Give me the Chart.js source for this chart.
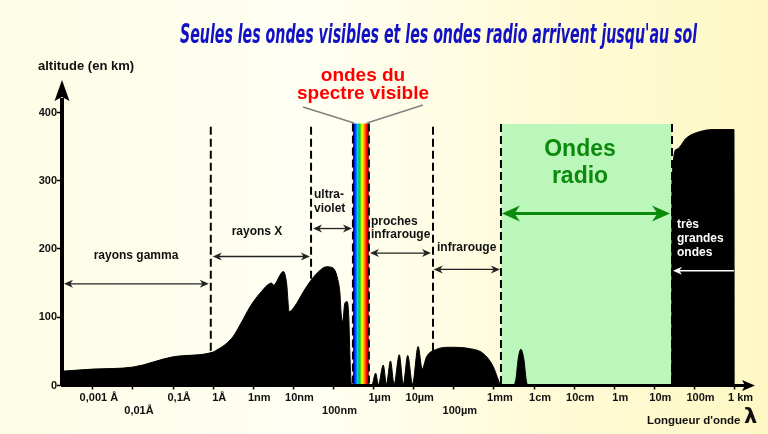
<!DOCTYPE html>
<html lang="fr">
<head>
<meta charset="utf-8">
<title>Absorption atmosphérique</title>
<script src="https://cdn.jsdelivr.net/npm/chart.js@4.4.1/dist/chart.umd.min.js"></script>
<style>
  html, body { margin: 0; padding: 0; background: #fffdf0; }
  #wrap { width: 768px; height: 434px; }
</style>
</head>
<body>
<div id="wrap"><canvas id="spectre" width="768" height="434"></canvas></div>
<script>
// x = log10(longueur d'onde en m), y = altitude en km
const tickLogs = [-13, -12, -11, -10, -9, -8, -7, -6, -5, -4, -3, -2, -1, 0, 1, 2, 3];
const tickLabels = ['0,001 Å', '0,01Å', '0,1Å', '1Å', '1nm', '10nm', '100nm', '1µm', '10µm',
                    '100µm', '1mm', '1cm', '10cm', '1m', '10m', '100m', '1 km'];
const lowRowLabels = ['0,01Å', '100nm', '100µm'];   // labels on the 2nd row
const altTicks = [0, 100, 200, 300, 400];

// altitude reached by the radiation (black area)
const absorbLog = [-13.77, -13.0, -12.0, -11.0, -10.0, -9.91, -9.70, -9.50, -9.30, -9.085, -8.835, -8.54, -8.50,
                   -8.25, -8.17, -8.105, -8.005, -7.67, -7.42, -7.17, -7.01, -6.91, -6.84, -6.81, -6.77, -6.72,
                   -6.66, -6.62, -6.59, -6.55,
                   -6.05, -5.95, -5.88, -5.76, -5.68, -5.58, -5.49, -5.36, -5.26, -5.15, -5.03, -4.89, -4.79,
                   -4.68, -4.43, -4.10, -3.60, -3.27, -3.02, -2.89, -2.83,
                   -2.53, -2.45, -2.40, -2.33, -2.25, -2.20, -2.15,
                   1.435, 1.44, 1.555, 1.805, 2.14, 2.46, 2.985, 2.99];
const absorbAlt = [21, 24, 27, 42, 49, 52, 60, 72, 92, 115, 135, 150, 147,
                   167, 150, 108, 113, 145, 164, 174, 172, 159, 135, 106, 93, 120,
                   123, 101, 42, 0,
                   0, 18, 1, 30, 2, 36, 2, 45, 2, 44, 2, 57, 24,
                   42, 53, 56, 54, 47, 28, 8, 0,
                   0, 10, 37, 53, 37, 10, 0,
                   0, 298, 346, 363, 372, 375, 375, 0];

const visibleLog = [-6.516, -6.117];
const visibleAlt = [384, 384];
const radioLog = [-2.82, 1.44];
const radioAlt = [383, 383];
const boundaryLog = [-10.06, -7.56, -6.516, -6.117, -4.52, -2.825, 1.44];
const boundaryTop = [379, 379, 384, 384, 379, 383, 383];

// domain arrows
const bandFrom = [-13.72, -10.01, -7.51, -6.09, -4.50, -2.80];
const bandTo = [-10.11, -7.59, -6.54, -4.57, -2.85, 1.39];
const bandAlt = [149, 189, 230, 194, 170, 252];
const longFrom = 2.985, longTo = 1.465, longAlt = 168;

const xMin = -13.77, xMax = 3.26, yMax = 418.3;
const FONT = '"Liberation Sans", Arial, sans-serif';

const pts = (xs, ys) => xs.map((x, i) => ({ x: x, y: ys[i] }));

const decor = {
    id: 'decor',
    beforeDraw(chart) {
        const ctx = chart.ctx;
        const g = ctx.createLinearGradient(0, 0, chart.width, 0);
        g.addColorStop(0, '#fdfce4');
        g.addColorStop(0.4, '#fffff4');
        g.addColorStop(0.7, '#fffbd8');
        g.addColorStop(1, '#fef8c4');
        ctx.save();
        ctx.fillStyle = g;
        ctx.fillRect(0, 0, chart.width, chart.height);
        ctx.restore();
    },
    afterDatasetsDraw(chart) {
        const ctx = chart.ctx, xs = chart.scales.x, ys = chart.scales.y;
        const head = (x, y, dir, len, half) => {
            ctx.beginPath();
            ctx.moveTo(x, y);
            ctx.lineTo(x - dir * len, y - half);
            ctx.lineTo(x - dir * len * 0.7, y);
            ctx.lineTo(x - dir * len, y + half);
            ctx.closePath();
            ctx.fill();
        };
        ctx.save();
        bandFrom.forEach((f, i) => {
            const x1 = xs.getPixelForValue(f), x2 = xs.getPixelForValue(bandTo[i]);
            const y = ys.getPixelForValue(bandAlt[i]);
            const radio = i === 5;
            ctx.strokeStyle = ctx.fillStyle = radio ? '#0b8a0b' : '#222';
            ctx.lineWidth = radio ? 3 : 1.3;
            const len = radio ? 18 : 9, half = radio ? 8 : 4;
            ctx.beginPath();
            ctx.moveTo(x1 + len * 0.6, y);
            ctx.lineTo(x2 - len * 0.6, y);
            ctx.stroke();
            head(x1, y, -1, len, half);
            head(x2, y, 1, len, half);
        });
        // white arrow over the black block
        const wx1 = xs.getPixelForValue(longFrom), wx2 = xs.getPixelForValue(longTo);
        const wy = ys.getPixelForValue(longAlt);
        ctx.strokeStyle = ctx.fillStyle = '#fff';
        ctx.lineWidth = 1.5;
        ctx.beginPath();
        ctx.moveTo(wx1, wy);
        ctx.lineTo(wx2 + 5, wy);
        ctx.stroke();
        head(wx2, wy, -1, 9, 4);
        ctx.restore();
    },
    afterDraw(chart) {
        const ctx = chart.ctx, area = chart.chartArea;
        ctx.save();
        // axis arrows
        ctx.fillStyle = '#000';
        ctx.beginPath();
        ctx.moveTo(area.left, 80);
        ctx.lineTo(area.left - 7.5, 101);
        ctx.lineTo(area.left, 97);
        ctx.lineTo(area.left + 7.5, 101);
        ctx.closePath();
        ctx.fill();
        ctx.beginPath();
        ctx.moveTo(755, area.bottom);
        ctx.lineTo(742, area.bottom - 5.5);
        ctx.lineTo(745, area.bottom);
        ctx.lineTo(742, area.bottom + 5.5);
        ctx.closePath();
        ctx.fill();

        // title
        const title = "Seules les ondes visibles et les ondes radio arrivent jusqu'au sol";
        ctx.font = 'italic bold 26px "Liberation Sans Narrow", "DejaVu Sans Condensed", sans-serif';
        const tw = ctx.measureText(title).width;
        ctx.save();
        ctx.translate(438.5, 36);
        ctx.scale(517 / tw, 1);
        ctx.fillStyle = '#1212c4';
        ctx.textAlign = 'center';
        ctx.textBaseline = 'middle';
        ctx.fillText(title, 0, 0);
        ctx.restore();

        // leader lines towards the visible strip
        ctx.strokeStyle = '#808080';
        ctx.lineWidth = 1.5;
        ctx.beginPath();
        ctx.moveTo(303, 107); ctx.lineTo(354, 123);
        ctx.moveTo(367, 123); ctx.lineTo(423, 105);
        ctx.stroke();

        const text = (s, x, y, font, color, align) => {
            ctx.font = font;
            ctx.fillStyle = color;
            ctx.textAlign = align || 'left';
            ctx.textBaseline = 'middle';
            ctx.fillText(s, x, y);
        };
        const b12 = 'bold 12px ' + FONT;
        text('altitude (en km)', 38, 66, 'bold 13px ' + FONT, '#111');
        text("Longueur d'onde", 647, 421, 'bold 11.5px ' + FONT, '#111');
        text('λ', 744, 418, 'bold 21px "DejaVu Sans", sans-serif', '#111');
        text('rayons gamma', 136, 256, b12, '#111', 'center');
        text('rayons X', 257, 232, b12, '#111', 'center');
        text('ultra-', 314, 195, b12, '#111');
        text('violet', 314, 209, b12, '#111');
        text('proches', 371, 222, b12, '#111');
        text('infrarouge', 371, 235, b12, '#111');
        text('infrarouge', 437, 248, b12, '#111');
        text('très', 677, 225, b12, '#fff');
        text('grandes', 677, 239, b12, '#fff');
        text('ondes', 677, 253, b12, '#fff');
        text('Ondes', 580, 150, 'bold 23px ' + FONT, '#0b8a0b', 'center');
        text('radio', 580, 177, 'bold 23px ' + FONT, '#0b8a0b', 'center');
        text('ondes du', 363, 76, 'bold 19px ' + FONT, '#ff0000', 'center');
        text('spectre visible', 363, 94, 'bold 19px ' + FONT, '#ff0000', 'center');
        ctx.restore();
    }
};

function rainbow(context) {
    const chart = context.chart;
    if (!chart.chartArea) return '#888';
    const xs = chart.scales.x;
    const g = chart.ctx.createLinearGradient(xs.getPixelForValue(visibleLog[0]), 0,
                                             xs.getPixelForValue(visibleLog[1]), 0);
    g.addColorStop(0, '#2a1a9a');
    g.addColorStop(0.12, '#0020ff');
    g.addColorStop(0.28, '#00c8ff');
    g.addColorStop(0.42, '#00d020');
    g.addColorStop(0.58, '#ffff00');
    g.addColorStop(0.72, '#ff8800');
    g.addColorStop(0.86, '#ff0000');
    g.addColorStop(1, '#900000');
    return g;
}

const boundarySets = boundaryLog.map((x, i) => ({
    data: [{ x: x, y: boundaryTop[i] }, { x: x, y: 0 }],
    borderColor: '#000',
    borderWidth: 2,
    borderDash: [8, 4],
    pointRadius: 0,
    fill: false,
    order: 1
}));

new Chart(document.getElementById('spectre'), {
    type: 'line',
    data: {
        datasets: [{
            data: pts(absorbLog, absorbAlt),
            borderColor: '#000',
            borderWidth: 1,
            backgroundColor: '#000',
            fill: 'origin',
            pointRadius: 0,
            cubicInterpolationMode: 'monotone',
            order: 0
        }, ...boundarySets, {
            data: pts(visibleLog, visibleAlt),
            borderWidth: 0,
            backgroundColor: rainbow,
            fill: 'origin',
            pointRadius: 0,
            order: 2
        }, {
            data: pts(radioLog, radioAlt),
            borderWidth: 0,
            backgroundColor: '#bbf7bb',
            fill: 'origin',
            pointRadius: 0,
            order: 3
        }]
    },
    options: {
        responsive: false,
        animation: false,
        layout: { padding: { top: 100, right: 23, left: 0, bottom: 0 } },
        plugins: {
            legend: { display: false },
            tooltip: { enabled: false }
        },
        scales: {
            x: {
                type: 'linear',
                min: xMin,
                max: xMax,
                afterBuildTicks: s => { s.ticks = tickLogs.map(v => ({ value: v })); },
                afterFit: s => { s.height = 48.5; },
                grid: { display: true, drawOnChartArea: false, drawTicks: true, tickLength: 4,
                        tickWidth: 1.5, tickColor: '#000' },
                border: { display: true, color: '#000', width: 3, z: 1 },
                ticks: {
                    autoSkip: false, maxRotation: 0, minRotation: 0, padding: 2, labelOffset: 6,
                    color: '#111',
                    font: { family: FONT, size: 11, weight: 'bold' },
                    callback: value => {
                        const lab = tickLabels[tickLogs.indexOf(value)];
                        return lowRowLabels.includes(lab) ? ['', lab] : lab;
                    }
                }
            },
            y: {
                type: 'linear',
                min: 0,
                max: yMax,
                afterBuildTicks: s => { s.ticks = altTicks.map(v => ({ value: v })); },
                afterFit: s => { s.width = 62; },
                grid: { display: true, drawOnChartArea: false, drawTicks: true, tickLength: 5,
                        tickWidth: 1.5, tickColor: '#000' },
                border: { display: true, color: '#000', width: 4, z: 1 },
                ticks: {
                    padding: 0,
                    color: '#111',
                    font: { family: FONT, size: 11, weight: 'bold' }
                }
            }
        }
    },
    plugins: [decor]
});
</script>
</body>
</html>
